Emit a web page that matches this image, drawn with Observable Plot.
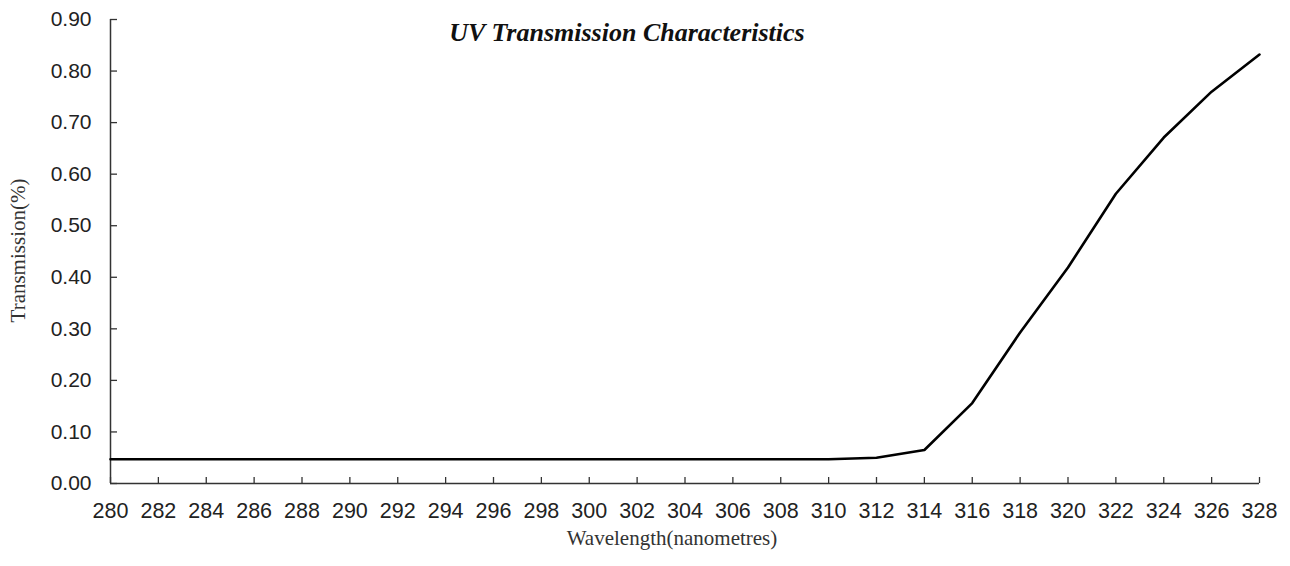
<!DOCTYPE html>
<html>
<head>
<meta charset="utf-8">
<script src="https://cdn.jsdelivr.net/npm/d3@7"></script>
<script src="https://cdn.jsdelivr.net/npm/@observablehq/plot@0.6"></script>
<style>
  html, body { margin: 0; padding: 0; background: #fff; }
  #chart svg { display: block; }
</style>
</head>
<body>
<div id="chart"></div>
<script>
const wavelengths = [280, 282, 284, 286, 288, 290, 292, 294, 296, 298, 300, 302, 304, 306, 308, 310, 312, 314, 316, 318, 320, 322, 324, 326, 328];
const transmission = [0.047, 0.047, 0.047, 0.047, 0.047, 0.047, 0.047, 0.047, 0.047, 0.047, 0.047, 0.047, 0.047, 0.047, 0.047, 0.047, 0.050, 0.065, 0.156, 0.293, 0.419, 0.562, 0.671, 0.760, 0.832];
const xTicks = [280, 282, 284, 286, 288, 290, 292, 294, 296, 298, 300, 302, 304, 306, 308, 310, 312, 314, 316, 318, 320, 322, 324, 326, 328];
const yTicks = [0, 0.1, 0.2, 0.3, 0.4, 0.5, 0.6, 0.7, 0.8, 0.9];
const title = "UV Transmission Characteristics";
const xLabel = "Wavelength(nanometres)";
const yLabel = "Transmission(%)";

const data = wavelengths.map((w, i) => ({w, t: transmission[i]}));

const sans = "'Liberation Sans', Arial, sans-serif";
const serif = "'Liberation Serif', 'Times New Roman', serif";

const chart = Plot.plot({
  width: 1290,
  height: 566,
  marginLeft: 110,
  marginRight: 31,
  marginTop: 19,
  marginBottom: 83,
  style: {fontFamily: sans, fontSize: "21px", color: "#222", background: "#fff"},
  x: {domain: [280, 328]},
  y: {domain: [0, 0.9]},
  marks: [
    Plot.axisX({ticks: xTicks, tickSize: -6, tickPadding: 25, label: null, tickFormat: d => String(d), stroke: "#333", strokeWidth: 1.3, fontSize: 21.5}),
    Plot.axisY({ticks: yTicks, tickSize: -7, tickPadding: 26, label: null, tickFormat: d3.format(".2f"), stroke: "#333", strokeWidth: 1.3, fontSize: 21}),
    Plot.ruleX([280], {stroke: "#333", strokeWidth: 1.5}),
    Plot.ruleY([0], {stroke: "#333", strokeWidth: 1.5}),
    Plot.line(data, {x: "w", y: "t", stroke: "#000", strokeWidth: 2.6}),
    Plot.text([title], {frameAnchor: "top", dx: -58, dy: 3, fontFamily: serif, fontWeight: "bold", fontStyle: "italic", fontSize: 26, fill: "#111"}),
    Plot.text([xLabel], {frameAnchor: "bottom", lineAnchor: "middle", dx: -13, dy: 55, fontFamily: serif, fontSize: 21, fill: "#333"}),
    Plot.text([yLabel], {frameAnchor: "left", textAnchor: "middle", lineAnchor: "middle", dx: -92, dy: -1, rotate: -90, fontFamily: serif, fontSize: 21, fill: "#333"})
  ]
});
document.getElementById("chart").appendChild(chart);
</script>
</body>
</html>
